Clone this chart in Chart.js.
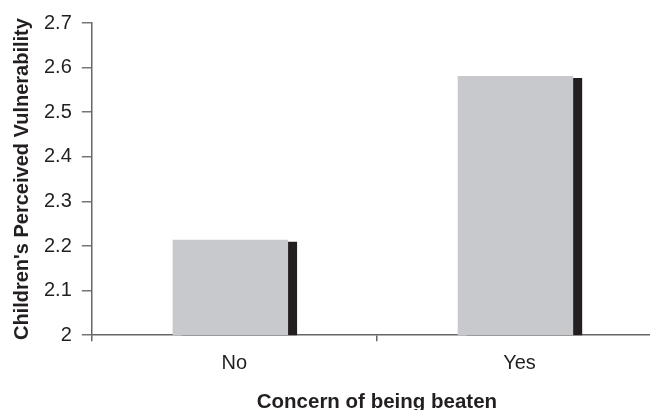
<!DOCTYPE html>
<html>
<head>
<meta charset="utf-8">
<script src="https://cdn.jsdelivr.net/npm/chart.js@4/dist/chart.umd.min.js"></script>
<style>
  html, body { margin: 0; padding: 0; background: #fff; overflow: hidden; }
  /* plot runs slightly past the right edge of the 650px view */
  #wrap { width: 662px; height: 410px; }
</style>
</head>
<body>
<div id="wrap"><canvas id="c"></canvas></div>
<script>
// Perceived vulnerability by concern of being beaten
const categories = ['No', 'Yes'];
const vulnerability = [2.214, 2.581];
const yTicks = [2, 2.1, 2.2, 2.3, 2.4, 2.5, 2.6, 2.7];
const yTickLabels = ['2', '2.1', '2.2', '2.3', '2.4', '2.5', '2.6', '2.7'];

const FONT = '"Liberation Sans", Arial, sans-serif';
const INK = '#231f20';

// Solid drop shadow behind each bar (offset down-right)
const barShadow = {
  id: 'barShadow',
  beforeDatasetsDraw(chart) {
    const ctx = chart.ctx;
    ctx.save();
    ctx.translate(-4, 0);
    ctx.shadowColor = INK;
    ctx.shadowBlur = 0;
    ctx.shadowOffsetX = 9;
    ctx.shadowOffsetY = 2;
  },
  afterDatasetsDraw(chart) {
    chart.ctx.restore();
  }
};

new Chart(document.getElementById('c'), {
  type: 'bar',
  data: {
    labels: categories,
    datasets: [{
      data: vulnerability,
      backgroundColor: '#c8c9cc',
      borderWidth: 0,
      categoryPercentage: 1,
      barPercentage: 0.405,
      clip: 0
    }]
  },
  plugins: [barShadow],
  options: {
    responsive: true,
    maintainAspectRatio: false,
    animation: false,
    layout: { padding: { top: 23, right: 0, left: 10, bottom: -4.5 } },
    plugins: { legend: { display: false }, tooltip: { enabled: false } },
    scales: {
      x: {
        z: 1,
        grid: { drawOnChartArea: false, drawTicks: true, tickLength: 6, color: '#666', lineWidth: 1.5 },
        border: { display: true, color: '#666', width: 1.5 },
        ticks: { color: INK, font: { family: FONT, size: 20 }, padding: 10 },
        title: {
          display: true,
          text: 'Concern of being beaten',
          color: INK,
          font: { family: FONT, size: 20.5, weight: 'bold' },
          padding: { top: 4.7, bottom: 0 }
        }
      },
      y: {
        z: 1,
        min: 2,
        max: 2.7,
        afterBuildTicks(axis) { axis.ticks = yTicks.map(v => ({ value: v })); },
        grid: { drawOnChartArea: false, drawTicks: true, tickLength: 10, color: '#777', lineWidth: 1.5 },
        border: { display: true, color: '#666', width: 1.5 },
        ticks: {
          color: INK,
          font: { family: FONT, size: 20 },
          padding: 10,
          callback: (v, i) => yTickLabels[i]
        },
        title: {
          display: true,
          text: "Children's Perceived Vulnerability",
          color: INK,
          font: { family: FONT, size: 20, weight: 'bold' },
          padding: { top: 0, bottom: 0 }
        }
      }
    }
  }
});
</script>
</body>
</html>
